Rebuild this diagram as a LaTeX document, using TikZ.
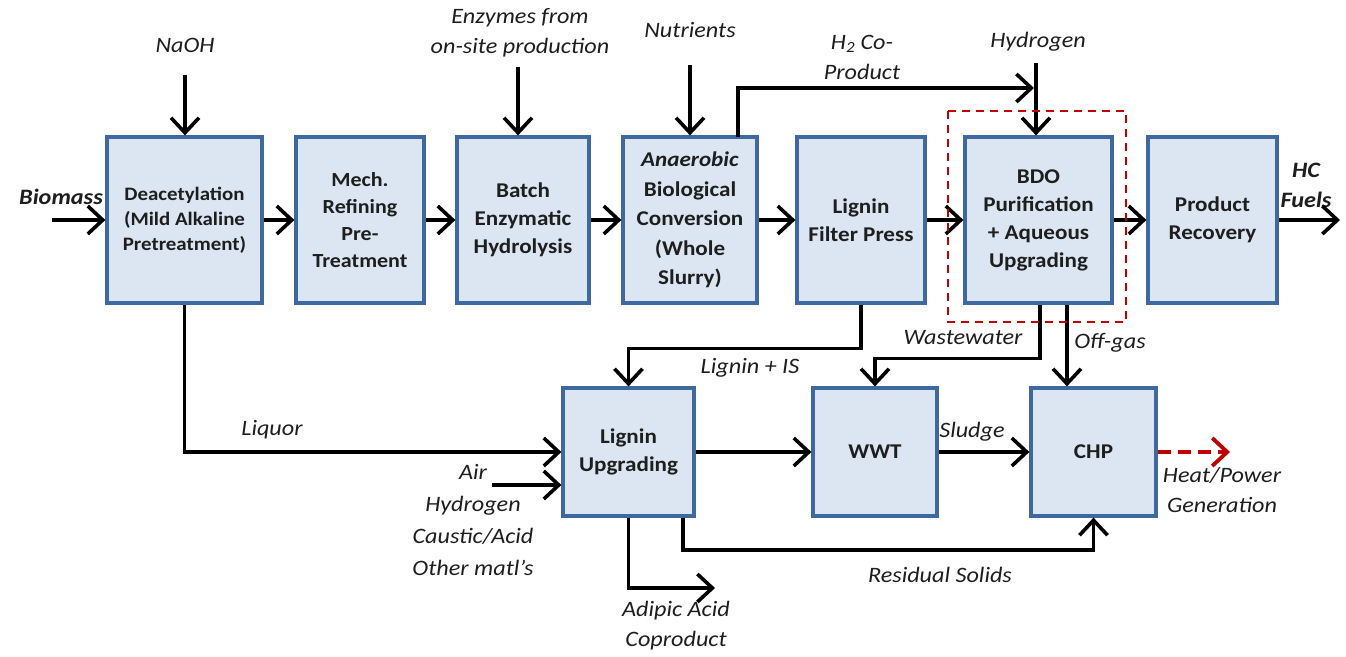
\documentclass[tikz,border=0pt]{standalone}
\usepackage{fontspec}
\setmainfont{Carlito}[FakeStretch=1.1]
\usetikzlibrary{arrows.meta}
\definecolor{boxblue}{HTML}{3E68A0}
\definecolor{boxfill}{HTML}{DCE6F2}
\definecolor{dred}{HTML}{C00000}
\definecolor{txt}{HTML}{1E1E1E}
\begin{document}
\begin{tikzpicture}[x=1pt,y=-1pt,
 box/.style={draw=boxblue, fill=boxfill, line width=3.2pt, align=center, inner sep=2pt,
   font=\fontsize{21}{28}\selectfont\bfseries, text=txt},
 lbl/.style={inner sep=0, align=center, font=\fontsize{22}{30}\selectfont\itshape, text=txt},
 blbl/.style={lbl, font=\fontsize{22}{30}\selectfont\bfseries\itshape},
 arr/.style={line width=3.6pt, line join=miter, draw=black,
   -{Straight Barb[length=15pt,width=28pt,line width=3.6pt]}},
 heatarr/.style={line width=3.8pt, draw=dred, dash pattern=on 13pt off 7pt,
   -{Straight Barb[length=15pt,width=28pt,line width=3.8pt]}},
 reddash/.style={draw=dred, line width=2pt, dash pattern=on 8pt off 6pt}]
\useasboundingbox (0,0) rectangle (1346,656);
\fill[white] (0,0) rectangle (1346,656);

% top row
\node[box, minimum width=155, minimum height=166, font=\fontsize{19}{25}\selectfont\bfseries] (deac) at (184.5,220) {Deacetylation\\(Mild Alkaline\\Pretreatment)};
\node[box, minimum width=128, minimum height=166, font=\fontsize{20}{27}\selectfont\bfseries] (mech) at (360,220) {Mech.\\Refining\\Pre-\\Treatment};
\node[box, minimum width=132, minimum height=166] (batch) at (523,220) {Batch\\Enzymatic\\Hydrolysis};
\node[box, minimum width=134, minimum height=166, font=\fontsize{21}{29.5}\selectfont\bfseries] (anaer) at (690,220) {\textit{Anaerobic}\\Biological\\Conversion\\(Whole\\Slurry)};
\node[box, minimum width=128, minimum height=166] (lfp) at (861,220) {Lignin\\Filter Press};
\node[box, minimum width=147, minimum height=166] (bdo) at (1038.5,220) {BDO\\Purification\\+ Aqueous\\Upgrading};
\node[box, minimum width=129, minimum height=166] (prod) at (1212.5,220) {Product\\Recovery};

% bottom row
\node[box, minimum width=131, minimum height=128] (lup) at (628.5,452) {Lignin\\Upgrading};
\node[box, minimum width=124, minimum height=128] (wwt) at (875,452) {WWT};
\node[box, minimum width=125, minimum height=128] (chp) at (1093.5,452) {CHP};

% labels
\node[lbl] (naoh) at (185,45) {NaOH};
\node[lbl] (enz) at (520,33) {Enzymes from\\on-site production};
\node[lbl] (nutr) at (690,30) {Nutrients};
\node[lbl] (h2) at (862,57) {H\textsubscript{2} Co-\\Product};
\node[lbl] (hyd) at (1038,42) {Hydrogen};
\node[blbl] (bio) at (61,197) {Biomass};
\node[blbl] (hc) at (1306,185) {HC\\Fuels};
\node[lbl] (ligis) at (750,368) {Lignin + IS};
\node[lbl] (ww) at (963,338) {Wastewater};
\node[lbl] (offg) at (1110,343) {Off-gas};
\node[lbl] (liq) at (272,430) {Liquor};
\node[lbl, font=\fontsize{22}{32}\selectfont\itshape] (air) at (473,520) {Air\\Hydrogen\\Caustic/Acid\\Other matl's};
\node[lbl] (adip) at (676,626) {Adipic Acid\\Coproduct};
\node[lbl] (resid) at (940,575) {Residual Solids};
\node[lbl] (sludge) at (972,432) {Sludge};
\node[lbl] (heat) at (1222,490) {Heat/Power\\Generation};

% free ends
\coordinate (bioS) at (52,220);
\coordinate (naohS) at (185,75);
\coordinate (enzS) at (518,67);
\coordinate (nutrS) at (690,65);
\coordinate (h2S) at (738,137);
\coordinate (h2E) at (1034,88);
\coordinate (hydS) at (1036,63);
\coordinate (hcE) at (1340,220);
\coordinate (airS) at (492,485);
\coordinate (adipE) at (715,588);
\coordinate (heatE) at (1230,452);

% connectors top
\draw[arr] (bioS) -- (deac);
\draw[arr] (naohS) -- (naohS |- deac.north);
\draw[arr] (enzS) -- (enzS |- batch.north);
\draw[arr] (nutrS) -- (nutrS |- anaer.north);
\draw[arr] (h2S) |- (h2E);
\draw[arr] (hydS) -- (hydS |- bdo.north);
\draw[arr] (deac) -- (mech);
\draw[arr] (mech) -- (batch);
\draw[arr] (batch) -- (anaer);
\draw[arr] (anaer) -- (lfp);
\draw[arr] (lfp) -- (bdo);
\draw[arr] (bdo) -- (prod);
\draw[arr] (prod) -- (hcE);

% connectors down
\draw[arr] (deac.south) |- (lup.west);
\draw[arr] (lfp.south) -- ++(0,44) -| (lup.north);
\draw[arr] ([xshift=1.5pt]bdo.south) -- ++(0,54) -| (wwt.north);
\draw[arr] (bdo.south -| 1067,0) -- (chp.north -| 1067,0);
\draw[arr] (lup) -- (wwt);
\draw[arr] (wwt) -- (chp);
\draw[arr] (airS) -- (airS -| lup.west);
\draw[arr] (lup.south) |- (adipE);
\draw[arr] (lup.south -| 683,0) -- (683,550) -| (chp.south);
\draw[heatarr] (chp.east) -- (heatE);

% highlight
\draw[reddash] (948,111) rectangle (1126,322);
\end{tikzpicture}
\end{document}
